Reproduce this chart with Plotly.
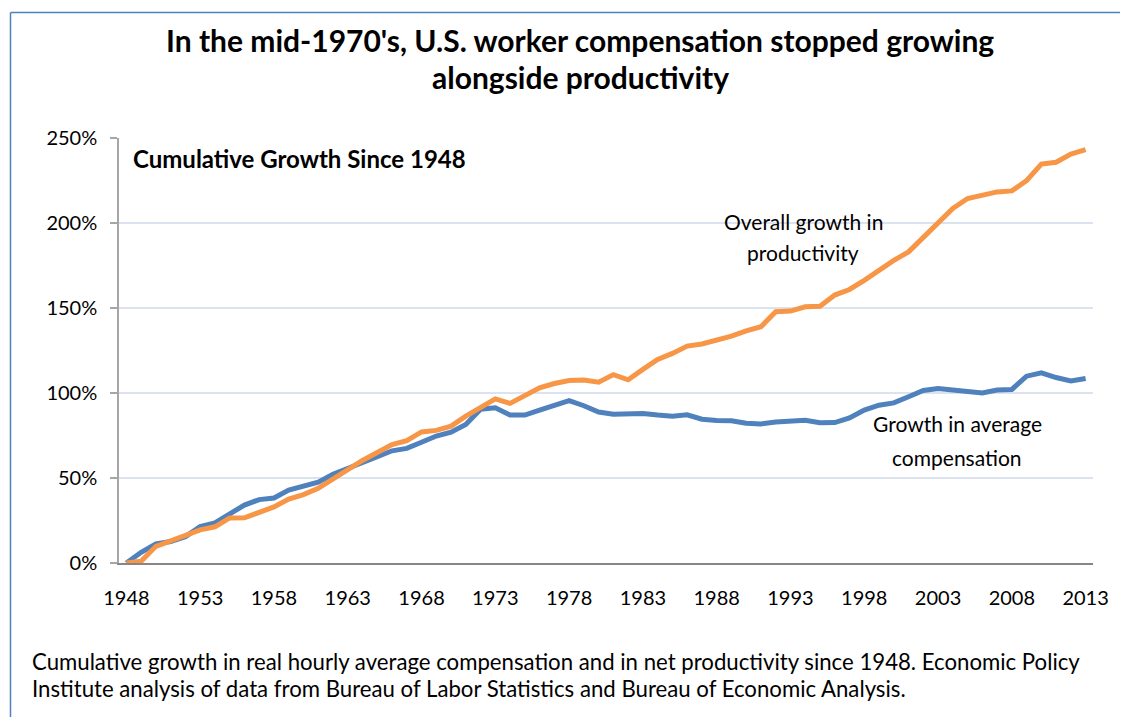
import plotly.graph_objects as go

years = list(range(1948, 2014))
productivity = [0, 1.0, 9.8, 13.0, 15.8, 19.5, 21.3, 26.5, 26.6, 30.1,
                33.0, 37.6, 40.2, 43.9, 49.3, 55.3, 60.3, 65.0, 69.7, 72.0,
                77.1, 78.0, 80.5, 86.4, 91.8, 96.5, 93.9, 98.2, 103.1, 105.6,
                107.3, 107.6, 106.4, 110.8, 107.8, 113.9, 119.7, 123.3, 127.6, 128.8,
                131.1, 133.4, 136.6, 139.0, 147.8, 148.2, 150.7, 151.0, 157.6, 160.9,
                166.3, 172.6, 178.0, 183.0, 191.8, 200.0, 208.5, 214.4, 216.3, 218.3,
                218.9, 224.9, 234.7, 235.7, 240.5, 243.1]
compensation = [0, 6.3, 11.2, 12.6, 15.5, 21.4, 23.6, 29.2, 34.1, 37.3,
                38.2, 42.9, 45.5, 47.5, 52.2, 55.4, 58.8, 62.5, 66.0, 67.4,
                71.0, 74.7, 77.0, 81.5, 90.5, 91.3, 87.0, 87.0, 89.9, 92.8,
                95.5, 92.5, 88.8, 87.5, 87.4, 88.0, 87.0, 86.4, 87.2, 84.6,
                83.8, 83.7, 82.2, 81.8, 83.0, 83.5, 84.0, 82.5, 82.6, 85.3,
                90.0, 92.8, 94.2, 97.8, 101.5, 102.7, 101.7, 100.8, 100.0, 101.7,
                102.1, 109.9, 111.9, 109.1, 107.1, 108.5]
x_tick_years = list(range(1948, 2014, 5))
y_tick_vals = [0, 50, 100, 150, 200, 250]
y_tick_text = ["0%", "50%", "100%", "150%", "200%", "250%"]

title_lines = ["In the mid-1970's, U.S. worker compensation stopped growing",
               "alongside productivity"]
inner_title = "Cumulative Growth Since 1948"
prod_label = ["Overall growth in", "productivity"]
comp_label = ["Growth in average", "compensation"]
caption_lines = ["Cumulative growth in real hourly average compensation and in net productivity since 1948. Economic Policy",
                 "Institute analysis of data from Bureau of Labor Statistics and Bureau of Economic Analysis."]

FONT = "Lato"
O = 8  # page body offset
W, H = 1128 - O, 717 - O
# plot area in page pixels: x 119..1093, y 138..563
L, T = 119 - O, 138 - O
R = O + W - 1093
B = O + H - 563
pw, ph = W - L - R, H - T - B

def px(x):
    return (x - O - L) / pw

def py(y):
    return (H - B - (y - O)) / ph

fig = go.Figure()
fig.add_trace(go.Scatter(x=years, y=compensation, mode="lines",
                         line=dict(color="#4F81BD", width=5), name="Compensation",
                         hoverinfo="x+y"))
fig.add_trace(go.Scatter(x=years, y=productivity, mode="lines",
                         line=dict(color="#F79646", width=5), name="Productivity",
                         hoverinfo="x+y"))

fig.update_layout(
    width=W, height=H,
    margin=dict(l=L, r=R, t=T, b=B, pad=0),
    paper_bgcolor="white", plot_bgcolor="white",
    showlegend=False,
    font=dict(family=FONT, color="black"),
    xaxis=dict(range=[1947.5, 2013.5], tickvals=x_tick_years,
               ticktext=[str(v) for v in x_tick_years],
               showgrid=False, zeroline=False, showline=True,
               linecolor="#868686", linewidth=2, ticks="",
               tickfont=dict(size=20, family=FONT), ticklabelstandoff=16),
    yaxis=dict(range=[0, 250], tickvals=y_tick_vals, ticktext=y_tick_text,
               showgrid=True, gridcolor="#DCE3F0", gridwidth=1.5,
               zeroline=False, showline=True, linecolor="#A6A6A6", linewidth=1.5,
               ticks="outside", ticklen=7, tickcolor="#A6A6A6", tickwidth=1.5,
               tickfont=dict(size=20, family=FONT), ticklabelstandoff=9),
)

# chart frame (left and top edges)
fig.add_shape(type="line", xref="paper", yref="paper",
              x0=px(10.5), x1=px(1140), y0=py(12.5), y1=py(12.5),
              line=dict(color="#4F81BD", width=1.5))
fig.add_shape(type="line", xref="paper", yref="paper",
              x0=px(10.5), x1=px(10.5), y0=py(12.5), y1=py(730),
              line=dict(color="#4F81BD", width=1.5))

def txt(text, x, y, size, anchor="center", bold=False):
    if bold:
        text = "<b>" + text + "</b>"
    fig.add_annotation(xref="paper", yref="paper", x=px(x), y=py(y), text=text,
                       showarrow=False, xanchor=anchor, yanchor="middle",
                       font=dict(size=size, family=FONT, color="black"))

txt(title_lines[0], 580, 40, 30, bold=True)
txt(title_lines[1], 580, 77, 30, bold=True)
txt(inner_title, 131, 158, 24, anchor="left", bold=True)
txt(prod_label[0], 803, 221, 21)
txt(prod_label[1], 803, 252, 21)
txt(comp_label[0], 957, 424, 21)
txt(comp_label[1], 957, 457, 21)
txt(caption_lines[0], 30, 661, 22.2, anchor="left")
txt(caption_lines[1], 30, 688, 22.2, anchor="left")

fig.write_html("out.html")
